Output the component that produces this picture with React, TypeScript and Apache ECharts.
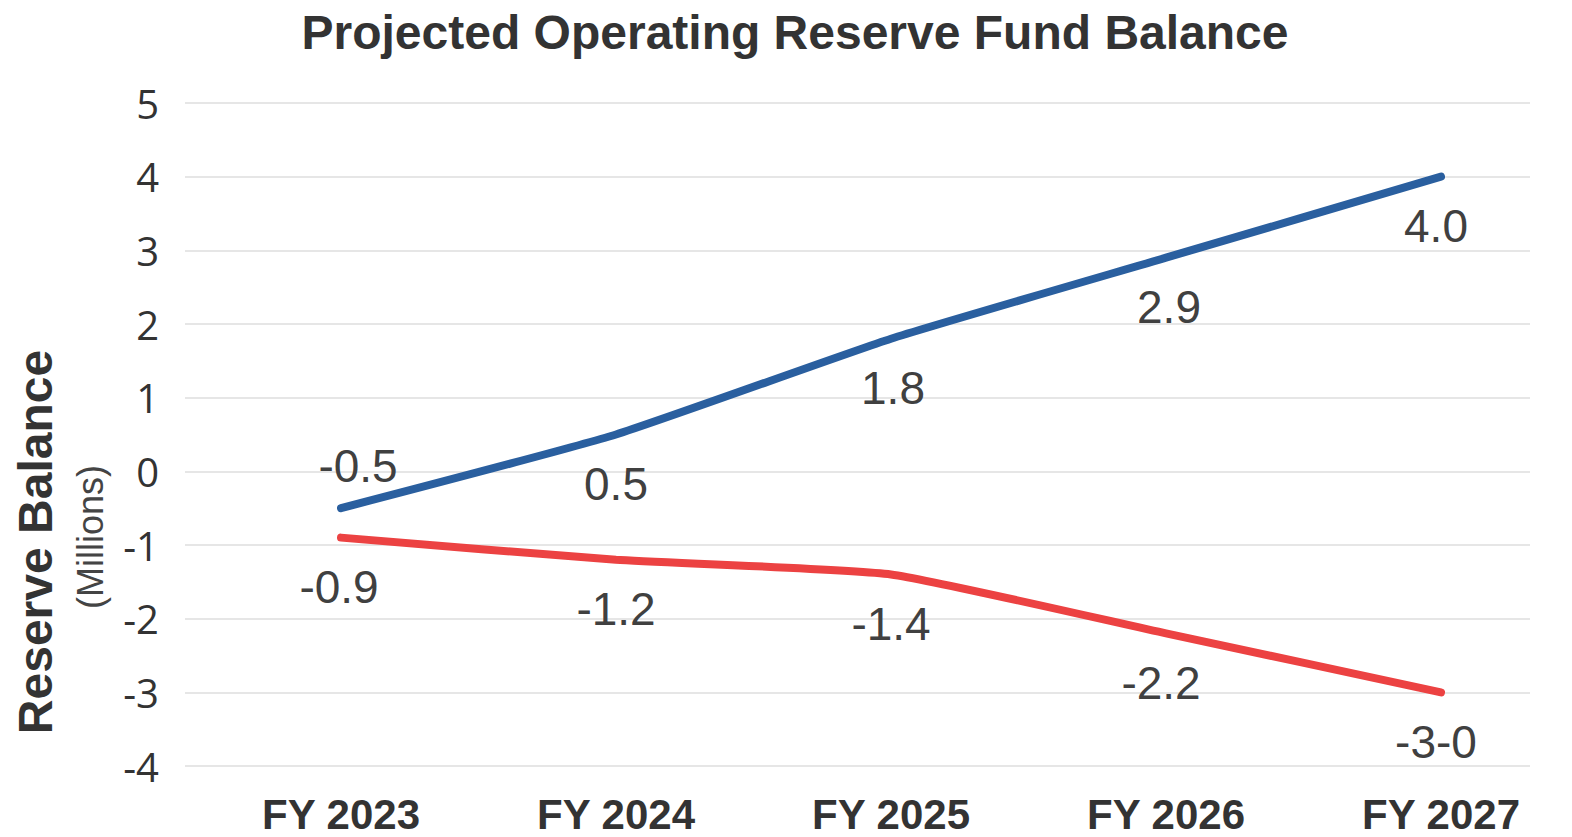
import React, { useEffect, useRef } from "react";
import * as echarts from "echarts";

const categories = ["FY 2023", "FY 2024", "FY 2025", "FY 2026", "FY 2027"];
const projectedBalance = [-0.5, 0.5, 1.8, 2.9, 4.0];
const projectedBalanceLabels = ["-0.5", "0.5", "1.8", "2.9", "4.0"];
const baselineBalance = [-0.9, -1.2, -1.4, -2.2, -3.0];
const baselineBalanceLabels = ["-0.9", "-1.2", "-1.4", "-2.2", "-3-0"];
const yMin = -4;
const yMax = 5;
const yInterval = 1;

const titleText = "Projected Operating Reserve Fund Balance";
const yAxisTitle = "Reserve Balance";
const yAxisUnit = "(Millions)";

export default function App() {
  const ref = useRef<HTMLDivElement>(null);

  useEffect(() => {
    if (!ref.current) return;
    const chart = echarts.init(ref.current, undefined, { renderer: "svg" });

    const labelFont = {
      fontFamily: "Liberation Sans, Arial, sans-serif",
      fontSize: 46,
      color: "#404040",
    };

    const blueOffsets: Array<[number, number]> = [[17, 0], [0, 0], [2, 0], [3, 0], [-5, 0]];
    const redOffsets: Array<[number, number]> = [[-2, 0], [0, 0], [0, 0], [-5, 0], [-5, 0]];

    const blueData = projectedBalance.map((v, i) => ({
      value: v,
      label: {
        formatter: projectedBalanceLabels[i],
        position: i === 0 ? "top" : "bottom",
        distance: i === 0 ? 19 : 26,
        offset: blueOffsets[i],
      },
    }));
    const redData = baselineBalance.map((v, i) => ({
      value: v,
      label: {
        formatter: baselineBalanceLabels[i],
        position: "bottom",
        distance: 26,
        offset: redOffsets[i],
      },
    }));

    chart.setOption({
      animation: false,
      backgroundColor: "#ffffff",
      title: {
        text: titleText,
        left: 790,
        textAlign: "center",
        top: 3,
        textStyle: {
          fontFamily: "Liberation Sans, Arial, sans-serif",
          fontWeight: "bold",
          fontSize: 48,
          color: "#333333",
        },
      },
      graphic: [
        {
          type: "text",
          x: 35,
          y: 542,
          rotation: Math.PI / 2,
          style: {
            text: yAxisTitle,
            fontFamily: "Liberation Sans, Arial, sans-serif",
            fontWeight: "bold",
            fontSize: 48,
            fill: "#333333",
            textAlign: "center",
            textVerticalAlign: "middle",
          },
        },
        {
          type: "text",
          x: 90,
          y: 537,
          rotation: Math.PI / 2,
          style: {
            text: yAxisUnit,
            fontFamily: "Liberation Sans, Arial, sans-serif",
            fontSize: 36,
            fill: "#444444",
            textAlign: "center",
            textVerticalAlign: "middle",
          },
        },
      ],
      grid: [
        { left: 185, right: 42, top: 103, bottom: 71 },
        { left: 341, right: 131, top: 103, bottom: 71 },
      ],
      xAxis: [
        { type: "category", gridIndex: 0, data: categories, show: false },
        {
          type: "category",
          gridIndex: 1,
          data: categories,
          boundaryGap: false,
          axisLine: { show: false },
          axisTick: { show: false },
          splitLine: { show: false },
          axisLabel: {
            margin: 27,
            fontFamily: "Liberation Sans, Arial, sans-serif",
            fontWeight: "bold",
            fontSize: 42,
            color: "#333333",
          },
        },
      ],
      yAxis: [
        {
          type: "value",
          gridIndex: 0,
          min: yMin,
          max: yMax,
          interval: yInterval,
          axisLine: { show: false },
          axisTick: { show: false },
          splitLine: { show: true, lineStyle: { color: "#e6e6e6", width: 2 } },
          axisLabel: {
            margin: 26,
            fontFamily: "Open Sans, sans-serif",
            fontSize: 40,
            color: "#333333",
          },
        },
        {
          type: "value",
          gridIndex: 1,
          min: yMin,
          max: yMax,
          interval: yInterval,
          show: false,
          splitLine: { show: false },
        },
      ],
      series: [
        {
          name: "Projected",
          type: "line",
          xAxisIndex: 1,
          yAxisIndex: 1,
          data: blueData,
          smooth: 0.15,
          symbol: "circle",
          symbolSize: 1,
          itemStyle: { color: "#2a5f9f" },
          lineStyle: { color: "#2a5f9f", width: 8, cap: "round" },
          label: { show: true, ...labelFont },
          z: 3,
        },
        {
          name: "Baseline",
          type: "line",
          xAxisIndex: 1,
          yAxisIndex: 1,
          data: redData,
          smooth: 0.15,
          symbol: "circle",
          symbolSize: 1,
          itemStyle: { color: "#ec4242" },
          lineStyle: { color: "#ec4242", width: 8, cap: "round" },
          label: { show: true, ...labelFont },
          z: 2,
        },
      ],
    });

    return () => chart.dispose();
  }, []);

  return (
    <div
      ref={ref}
      style={{ position: "fixed", left: 0, top: 0, width: 1572, height: 837, background: "#fff" }}
    />
  );
}
